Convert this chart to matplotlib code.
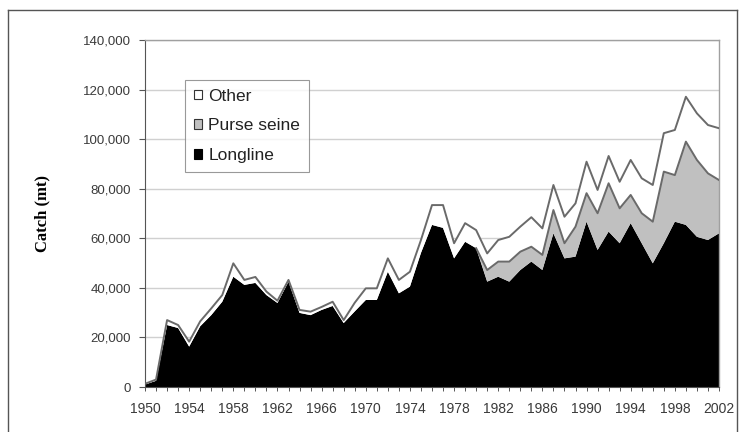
import numpy as np
import matplotlib
matplotlib.use("Agg")
import matplotlib.pyplot as plt
from matplotlib.patches import Patch
from matplotlib.lines import Line2D
from matplotlib.ticker import FuncFormatter, MultipleLocator

years = list(range(1950, 2003))

longline = [1000, 2500, 25000, 23800, 16300, 24500, 29000, 34400, 44500, 41200,
            42000, 37100, 33900, 42500, 29900, 29000, 31100, 32700, 25800, 30500,
            35100, 35100, 46500, 37800, 40500, 54100, 65400, 64200, 51900, 58600,
            56000, 42500, 44500, 42500, 47200, 50600, 47200, 62000, 51900, 52600,
            66700, 55300, 62700, 58000, 66100, 58000, 49900, 58000, 66700, 65400,
            60600, 59300, 62000]

purse_seine = [0] * 31 + [4700, 6100, 8100, 7400, 6000, 6100, 9400, 6100, 12100,
                          11500, 14800, 19500, 14100, 11400, 12100, 16800, 28900, 18800, 33600,
                          31000, 26900, 21500]

other = [300, 500, 2000, 1200, 2000, 2000, 2700, 2700, 5400, 2000,
         2400, 1400, 900, 700, 1200, 1400, 1200, 1700, 1200, 3500,
         4700, 4700, 5400, 5400, 6000, 5200, 8000, 9200, 6100, 7500,
         7300, 6700, 8700, 10000, 10100, 11900, 10700, 10100, 10700, 9400,
         12700, 9400, 11000, 10700, 14100, 14100, 14800, 15500, 18200, 18100,
         18800, 19500, 20900]

series_names = ["Other", "Purse seine", "Longline"]
y_ticks = list(range(0, 140001, 20000))
x_tick_labels = list(range(1950, 2003, 4))

W, H = 742, 432
fig = plt.figure(figsize=(W / 100, H / 100), dpi=100)
fig.patch.set_facecolor("white")

ax = fig.add_axes([145 / W, 1 - 387 / H, (719 - 145) / W, (387 - 40) / H])

yrs = np.array(years)
ll = np.array(longline, float)
ps = np.array(purse_seine, float)
ot = np.array(other, float)

ax.stackplot(yrs, ll, ps, ot, colors=["black", "#c0c0c0", "white"],
             linewidth=0, zorder=2)

# series borders
ptop = ll + ps
mask = np.zeros(len(yrs), bool)
for i in range(len(yrs)):
    lo, hi = max(i - 1, 0), min(i + 1, len(yrs) - 1)
    mask[i] = (ps[lo:hi + 1] > 0).any()
ax.plot(yrs, np.where(mask, ptop, np.nan), color="#6a6a6a", lw=1.4, zorder=3)
ax.plot(yrs, ll + ps + ot, color="#6a6a6a", lw=1.4, zorder=3)

ax.set_xlim(1950, 2002)
ax.set_ylim(0, 140000)
ax.set_yticks(y_ticks)
ax.yaxis.set_major_formatter(FuncFormatter(lambda v, p: f"{int(v):,}"))
ax.set_xticks(x_tick_labels)
ax.set_xticklabels([str(v) for v in x_tick_labels])
ax.xaxis.set_minor_locator(MultipleLocator(1))

ax.grid(axis="y", color="#d0d0d0", lw=1.0, zorder=0)
ax.set_axisbelow(True)

for s in ["top", "right"]:
    ax.spines[s].set_color("#a0a0a0")
    ax.spines[s].set_linewidth(1.0)
ax.spines["left"].set_color("#555555")
ax.spines["bottom"].set_color("#555555")

ax.tick_params(axis="y", direction="out", length=4, width=0.8, color="#555555",
               labelsize=9.5, labelcolor="#3a3a3a", pad=6)
ax.tick_params(axis="x", which="both", direction="out", length=3, width=0.7,
               color="#555555", labelsize=10, labelcolor="#3a3a3a", pad=8)
for lab in ax.get_xticklabels() + ax.get_yticklabels():
    lab.set_family("Liberation Sans")

ax.set_ylabel("Catch (mt)", family="Liberation Serif", fontweight="bold",
              fontsize=12)
ax.yaxis.set_label_coords((50 - 145) / (719 - 145), 0.5)

handles = [Patch(facecolor="white", edgecolor="#333333", lw=0.8),
           Patch(facecolor="#c0c0c0", edgecolor="#333333", lw=0.8),
           Patch(facecolor="black", edgecolor="black", lw=0.8)]
leg = ax.legend(handles, series_names, loc="upper left",
                bbox_to_anchor=((185 - 145) / 574, (387 - 80) / 347),
                borderaxespad=0, fancybox=False, frameon=True,
                handlelength=0.5, handleheight=0.5, handletextpad=0.35,
                labelspacing=0.85, borderpad=0.5,
                prop={"family": "Liberation Sans", "size": 12.5})
leg.get_frame().set_edgecolor("#808080")
leg.get_frame().set_linewidth(0.8)
for t in leg.get_texts():
    t.set_color("#222222")

# outer frame
x0, x1 = 8 / W, 737 / W
y1 = 1 - 10 / H
for xs, ys in [([x0, x0], [0, y1]), ([x0, x1], [y1, y1]), ([x1, x1], [y1, 0])]:
    fig.add_artist(Line2D(xs, ys, color="#555555", lw=1.0, transform=fig.transFigure))

fig.savefig("out.png", dpi=100)
